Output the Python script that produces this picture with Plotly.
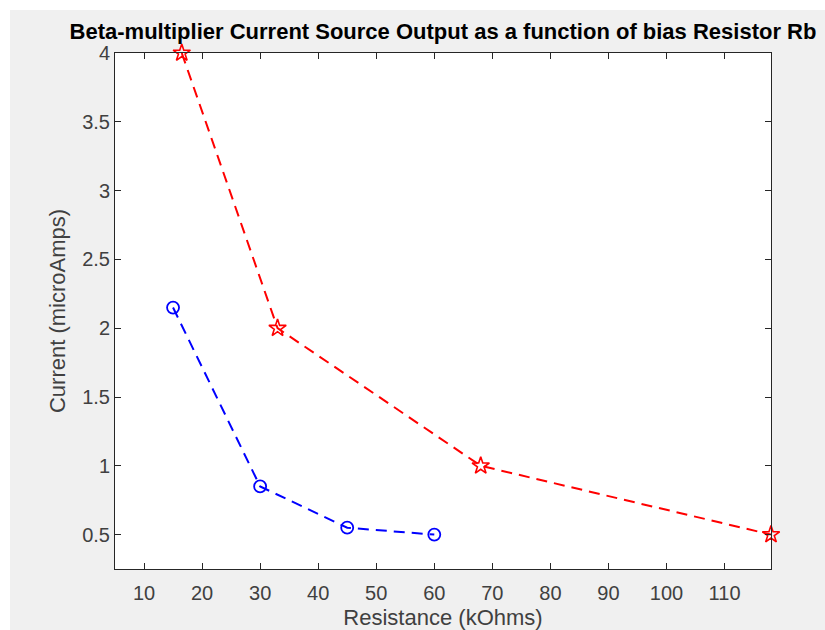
import plotly.graph_objects as go

# Data
blue_x = [15, 30, 45, 60]
blue_y = [2.15, 0.85, 0.55, 0.5]
red_x = [16.5, 33, 68, 118]
red_y = [4, 2, 1, 0.5]

x_ticks = [10, 20, 30, 40, 50, 60, 70, 80, 90, 100, 110]
y_ticks = [0.5, 1, 1.5, 2, 2.5, 3, 3.5, 4]
y_tick_labels = ["0.5", "1", "1.5", "2", "2.5", "3", "3.5", "4"]

title_text = "Beta-multiplier Current Source Output as a function of bias Resistor Rb"
x_label = "Resistance (kOhms)"
y_label = "Current (microAmps)"

W, H = 825, 630
ml, mr, mt, mb = 115, 54, 53, 61
pw = W - ml - mr
ph = H - mt - mb

fig = go.Figure()
fig.add_trace(go.Scatter(
    x=blue_x, y=blue_y, mode="lines+markers",
    line=dict(color="#0000ff", width=2, dash="11px,7px"),
    marker=dict(symbol="circle-open", size=12, color="#0000ff", line=dict(width=1.8, color="#0000ff")),
    cliponaxis=False, showlegend=False,
))
fig.add_trace(go.Scatter(
    x=red_x, y=red_y, mode="lines+markers",
    line=dict(color="#ff0000", width=2, dash="11px,7px"),
    marker=dict(symbol="star-open", size=13, color="#ff0000", line=dict(width=1.6, color="#ff0000")),
    cliponaxis=False, showlegend=False,
))

axis_common = dict(
    showline=True, linecolor="#262626", linewidth=1, mirror="ticks",
    ticks="inside", ticklen=6, tickcolor="#262626", tickwidth=1,
    showgrid=False, zeroline=False, automargin=False,
    tickfont=dict(family="Liberation Sans, Arial, sans-serif", size=20, color="#404040"),
)

fig.update_layout(
    width=W, height=H,
    margin=dict(l=ml, r=mr, t=mt, b=mb),
    paper_bgcolor="#ffffff",
    plot_bgcolor="#ffffff",
    title=dict(
        text=title_text,
        font=dict(family="Liberation Sans, Arial, sans-serif", size=22, color="#000000", weight="bold"),
        x=(443) / W, xanchor="center",
        y=1 - 31 / H, yanchor="middle",
    ),
    xaxis=dict(
        range=[5, 118], tickmode="array", tickvals=x_ticks, ticklabelstandoff=6,
        title=dict(text=x_label, standoff=11,
                   font=dict(family="Liberation Sans, Arial, sans-serif", size=22, color="#404040")),
        **axis_common,
    ),
    yaxis=dict(
        range=[0.25, 4], tickmode="array", tickvals=y_ticks, ticktext=y_tick_labels,
        title=dict(text=y_label, standoff=10,
                   font=dict(family="Liberation Sans, Arial, sans-serif", size=22, color="#404040")),
        **axis_common,
    ),
    shapes=[
        dict(type="rect", xref="paper", yref="paper", layer="below",
             x0=(10 - ml) / pw, x1=(W - ml) / pw + 0.05,
             y0=-(mb) / ph - 0.05, y1=1 + (mt - 10) / ph,
             fillcolor="#f0f0f0", line=dict(width=0)),
        dict(type="rect", xref="paper", yref="paper", layer="below",
             x0=0, x1=1, y0=0, y1=1,
             fillcolor="#ffffff", line=dict(width=0)),
    ],
)

fig.write_html("out.html")
